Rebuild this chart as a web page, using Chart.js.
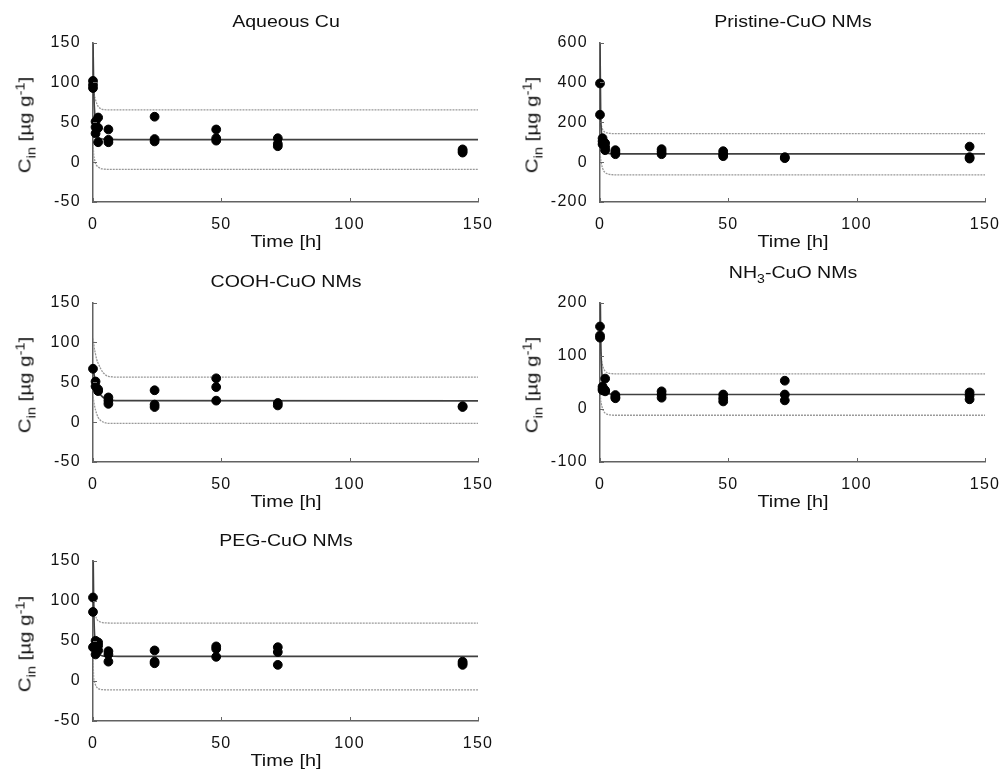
<!DOCTYPE html>
<html lang="en">
<head>
<meta charset="UTF-8">
<title>Cin over time, five CuO treatments</title>
<script src="https://cdn.jsdelivr.net/npm/chart.js"></script>
<style>
    body { margin: 0; background: #fff; font-family: "Liberation Sans", Arial, sans-serif; color: #111; }
    #page { position: relative; width: 1005px; height: 780px; overflow: hidden; }
    canvas.panel { position: absolute; }
    .lbl { position: absolute; white-space: nowrap; line-height: 1; font-size: 17px; }
    .title { transform: translate(-50%, -50%) scaleX(1.15); }
    .ylab { transform: translate(-50%, -50%) rotate(-90deg) scaleX(1.2); }
    .xlab { transform: translate(-50%, -50%) scaleX(1.17); }
    sub, sup { font-size: 0.72em; vertical-align: baseline; position: relative; line-height: 0; }
    sub { top: 0.38em; }
    sup { top: -0.5em; }
</style>
</head>
<body>
<div id="page"></div>
<script>
    // shared axis values
    const timeTicks = [0, 50, 100, 150];
    const fitTime = [0, 0.25, 0.5, 1, 1.5, 2, 3, 4, 6, 10, 150];

    // Aqueous Cu
    const aqueousTicks = [-50, 0, 50, 100, 150];
    const aqueousTime = [0, 0, 0, 1, 1, 1, 2, 2, 2, 6, 6, 6, 24, 24, 24, 48, 48, 48, 72, 72, 72, 144, 144, 144];
    const aqueousConc = [102, 97, 93, 51, 44, 36, 56, 43, 25, 41, 28, 25, 57, 29, 26, 41, 30, 27, 30, 23, 20, 16, 14, 12];
    const aqueousFit = [150, 95, 70, 47, 37, 32, 29.5, 29, 28.5, 28.3, 28.3];
    const aqueousUpper = [120, 92, 85, 78, 73, 70, 67, 66, 65.6, 65.5, 65.5];
    const aqueousLower = [30, 10, 5, -2, -4.5, -6, -8, -8.6, -9, -9, -9];

    // Pristine-CuO NMs
    const pristineTicks = [-200, 0, 200, 400, 600];
    const pristineTime = [0, 0, 1, 1, 1, 2, 2, 2, 6, 6, 6, 24, 24, 24, 48, 48, 48, 72, 72, 144, 144, 144];
    const pristineConc = [395, 238, 120, 105, 90, 95, 75, 60, 60, 50, 40, 65, 52, 40, 55, 40, 30, 25, 20, 78, 25, 18];
    const pristineFit = [600, 250, 160, 95, 65, 52, 45, 43, 42, 42, 42];
    const pristineUpper = [260, 200, 185, 165, 155, 150, 146, 144, 143, 143, 143];
    const pristineLower = [60, 15, -5, -30, -45, -52, -59, -62, -63.5, -64, -64];

    // COOH-CuO NMs
    const coohTicks = [-50, 0, 50, 100, 150];
    const coohTime = [0, 1, 1, 2, 2, 6, 6, 6, 24, 24, 24, 48, 48, 48, 72, 72, 144, 144];
    const coohConc = [67, 51, 45, 41, 39, 31, 27, 23, 40, 22, 19, 55, 44, 27, 24, 21, 20, 19];
    const coohFit = [70, 64, 58, 50, 44, 40, 34, 31, 28, 27, 26.8];
    const coohUpper = [105, 100, 93, 85, 78, 74, 67, 62, 57.5, 56.5, 56.4];
    const coohLower = [32, 27, 22, 15, 10, 6, 2, 0, -1.5, -1.6, -1.6];

    // NH3-CuO NMs
    const nh3Ticks = [-100, 0, 100, 200];
    const nh3Time = [0, 0, 0, 1, 1, 1, 2, 2, 2, 6, 6, 6, 24, 24, 24, 48, 48, 48, 72, 72, 72, 144, 144, 144];
    const nh3Conc = [155, 138, 134, 42, 38, 35, 57, 35, 33, 26, 22, 20, 33, 27, 21, 27, 20, 14, 53, 27, 16, 31, 25, 18];
    const nh3Fit = [260, 140, 90, 50, 38, 32, 29, 28, 27, 27, 27];
    const nh3Upper = [130, 105, 95, 82, 75, 71, 67.5, 66.5, 66, 66, 66];
    const nh3Lower = [50, 18, 10, 0, -5, -8, -10.5, -11.5, -12, -12, -12];

    // PEG-CuO NMs
    const pegTicks = [-50, 0, 50, 100, 150];
    const pegTime = [0, 0, 0, 1, 1, 1, 2, 2, 2, 6, 6, 6, 24, 24, 24, 48, 48, 48, 72, 72, 72, 144, 144, 144];
    const pegConc = [104, 86, 42, 50, 40, 33, 48, 44, 38, 37, 33, 24, 38, 24, 22, 43, 40, 30, 42, 36, 20, 24, 22, 20];
    const pegFit = [170, 100, 65, 45, 37, 34, 32, 31, 30.8, 30.6, 30.6];
    const pegUpper = [110, 95, 88, 81, 77, 75, 73.3, 72.5, 72.2, 72, 72];
    const pegLower = [30, 5, 0, -5, -8, -9.5, -10.7, -11, -11.2, -11.3, -11.3];

    const yLabel = 'C<sub>in</sub> [&micro;g g<sup>-1</sup>]';

    const panels = [
        { title: 'Aqueous Cu', left: 93, top: 43, h: 161, titleY: 21, ticks: aqueousTicks,
          time: aqueousTime, conc: aqueousConc, fit: aqueousFit, upper: aqueousUpper, lower: aqueousLower },
        { title: 'Pristine-CuO NMs', left: 600, top: 43, h: 161, titleY: 21, ticks: pristineTicks,
          time: pristineTime, conc: pristineConc, fit: pristineFit, upper: pristineUpper, lower: pristineLower },
        { title: 'COOH-CuO NMs', left: 93, top: 303, h: 161, titleY: 281, ticks: coohTicks,
          time: coohTime, conc: coohConc, fit: coohFit, upper: coohUpper, lower: coohLower },
        { title: 'NH<sub>3</sub>-CuO NMs', left: 600, top: 303, h: 161, titleY: 272, ticks: nh3Ticks,
          time: nh3Time, conc: nh3Conc, fit: nh3Fit, upper: nh3Upper, lower: nh3Lower },
        { title: 'PEG-CuO NMs', left: 93, top: 561, h: 162, titleY: 540, ticks: pegTicks,
          time: pegTime, conc: pegConc, fit: pegFit, upper: pegUpper, lower: pegLower }
    ];

    const AREA_W = 385, Y_AXIS_W = 60, X_AXIS_H = 30, PAD_T = 12, PAD_R = 24;
    const page = document.getElementById('page');

    // MATLAB style ticks pointing into the plot
    const innerTicks = {
        id: 'innerTicks',
        afterDraw(chart) {
            const { ctx, chartArea: a, scales: { x, y } } = chart;
            ctx.save();
            ctx.strokeStyle = '#666';
            ctx.lineWidth = 1;
            ctx.beginPath();
            x.ticks.forEach(t => {
                const px = Math.round(x.getPixelForValue(t.value)) + 0.5;
                ctx.moveTo(px, a.bottom);
                ctx.lineTo(px, a.bottom - 4);
            });
            y.ticks.forEach(t => {
                const py = Math.round(y.getPixelForValue(t.value)) + 0.5;
                ctx.moveTo(a.left, py);
                ctx.lineTo(a.left + 4, py);
            });
            ctx.stroke();
            ctx.restore();
        }
    };

    // tick labels in the figure are drawn quite wide
    const wideText = {
        id: 'wideText',
        beforeDraw(chart) { chart.ctx.letterSpacing = '1.3px'; }
    };

    function addText(html, cls, x, y) {
        const d = document.createElement('div');
        d.className = 'lbl ' + cls;
        d.innerHTML = html;
        d.style.left = x + 'px';
        d.style.top = y + 'px';
        page.appendChild(d);
    }

    function curve(values, color, dash, width) {
        return {
            type: 'line',
            data: fitTime.map((t, i) => ({ x: t, y: values[i] })),
            borderColor: color,
            borderWidth: width,
            borderDash: dash,
            pointRadius: 0,
            cubicInterpolationMode: 'monotone',
            fill: false,
            clip: 0
        };
    }

    const tickFont = { family: '"Liberation Sans", Arial, sans-serif', size: 16 };

    panels.forEach(p => {
        const canvas = document.createElement('canvas');
        canvas.className = 'panel';
        canvas.width = Y_AXIS_W + AREA_W + PAD_R;
        canvas.height = PAD_T + p.h + X_AXIS_H;
        page.appendChild(canvas);

        const chart = new Chart(canvas, {
            type: 'scatter',
            data: {
                datasets: [
                    {
                        type: 'scatter',
                        data: p.time.map((t, i) => ({ x: t, y: p.conc[i] })),
                        backgroundColor: '#000',
                        borderColor: '#000',
                        borderWidth: 1,
                        pointRadius: 4.4,
                        clip: false
                    },
                    curve(p.fit, '#404040', [], 1.7),
                    curve(p.upper, '#999', [2, 1], 1.3),
                    curve(p.lower, '#999', [2, 1], 1.3)
                ]
            },
            options: {
                responsive: false,
                animation: false,
                devicePixelRatio: 1,
                layout: { padding: { left: 0, top: PAD_T, right: PAD_R, bottom: 0 } },
                plugins: { legend: { display: false }, tooltip: { enabled: false } },
                scales: {
                    x: {
                        type: 'linear',
                        min: 0,
                        max: 150,
                        grid: { display: false },
                        border: { display: true, color: '#626262', width: 1.5 },
                        ticks: { font: tickFont, color: '#111', padding: 5, maxRotation: 0 },
                        afterBuildTicks: s => { s.ticks = timeTicks.map(v => ({ value: v })); },
                        afterFit: s => { s.height = X_AXIS_H; }
                    },
                    y: {
                        type: 'linear',
                        min: p.ticks[0],
                        max: p.ticks[p.ticks.length - 1],
                        grid: { display: false },
                        border: { display: true, color: '#626262', width: 1.5 },
                        ticks: { font: tickFont, color: '#111', padding: 4 },
                        afterBuildTicks: s => { s.ticks = p.ticks.map(v => ({ value: v })); },
                        afterFit: s => { s.width = Y_AXIS_W; }
                    }
                }
            },
            plugins: [innerTicks, wideText]
        });

        canvas.style.left = (p.left - chart.chartArea.left) + 'px';
        canvas.style.top = (p.top - chart.chartArea.top) + 'px';

        const cx = p.left + AREA_W / 2;
        addText(p.title, 'title', cx, p.titleY);
        addText(yLabel, 'ylab', p.left - 68, p.top + p.h / 2 + 1.5);
        addText('Time [h]', 'xlab', cx, p.top + p.h + 37);
    });
</script>
</body>
</html>
